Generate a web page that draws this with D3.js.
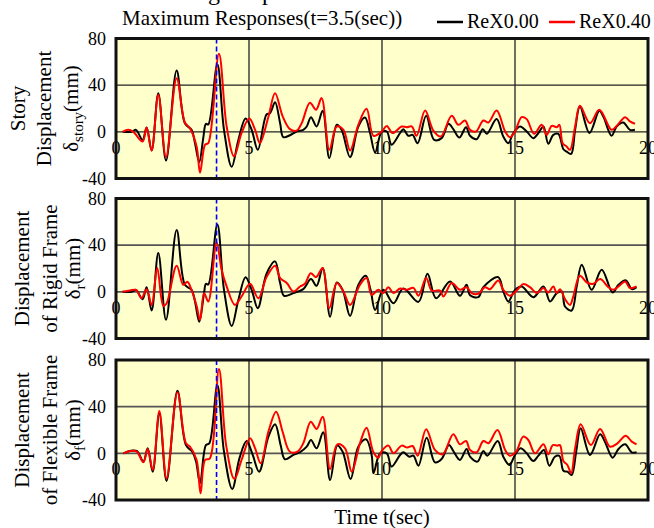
<!DOCTYPE html>
<html>
<head>
<meta charset="utf-8">
<script src="https://cdn.jsdelivr.net/npm/d3@7"></script>
<style>
  body { margin: 0; background: #fff; }
  svg { display: block; font-family: "Liberation Serif", "Times New Roman", serif; }
</style>
</head>
<body>
<svg id="canvas" width="654" height="528"></svg>
<script>
// values, [time (sec), displacement (mm)]
let storyBlack = [[0.25,0],[0.59,0],[0.75,1.7],[1.0,-7],[1.15,3.7],[1.34,-16],[1.59,33],[1.88,-24.6],[2.28,52.6],[2.59,7.4],[2.84,1.7],[2.97,-9.7],[3.13,-26],[3.28,-5.4],[3.38,6.9],[3.47,6.3],[3.81,58],[4.06,1.7],[4.35,-30],[4.6,-7],[4.87,11.4],[5.1,1.7],[5.33,-15.4],[5.66,14.9],[5.79,16],[5.98,25.4],[6.17,7.4],[6.29,-4.6],[6.54,-2.9],[6.79,0.3],[7.04,1.7],[7.17,4.6],[7.33,12.6],[7.54,4.6],[7.77,18],[8.02,-22.6],[8.3,6],[8.48,1.7],[8.8,-21.7],[9.11,4.6],[9.36,12.3],[9.55,-1],[9.74,-17.7],[9.99,0],[10.18,0.3],[10.36,-11],[10.68,-1],[10.8,2.3],[10.99,-3.4],[11.15,-2.6],[11.34,-9.7],[11.66,13.7],[11.96,-6.9],[12.24,-5.4],[12.5,6.9],[12.68,2.3],[12.91,-4.9],[13.16,4],[13.31,-3.4],[13.56,-6.3],[13.79,2.3],[13.94,-1.7],[14.31,10.9],[14.56,-4],[14.75,-9.7],[14.94,-1],[15.19,4.6],[15.44,0.3],[15.69,-5.4],[15.88,-1],[16.07,4.6],[16.25,-10.3],[16.44,-2.6],[16.63,-1.7],[16.82,-14.9],[16.94,-16.9],[17.11,-18.9],[17.26,1.7],[17.44,21.7],[17.8,-1],[18.17,18],[18.32,13.1],[18.63,-3.4],[18.82,4.6],[19.07,8],[19.32,1.7],[19.51,1.7]];

let storyRed = [[0.25,0],[0.46,1.7],[0.65,0],[1.0,-8.3],[1.15,3.7],[1.34,-16],[1.59,31.7],[1.88,-21.7],[2.28,46],[2.59,8],[2.78,3],[3.03,-12.6],[3.16,-35],[3.35,-11],[3.47,-9.7],[3.87,67],[4.16,4.6],[4.44,-21],[4.72,-1],[5.01,11.4],[5.23,1.7],[5.41,-9.7],[5.73,13],[5.98,33],[6.27,13],[6.54,2.3],[6.79,1],[6.98,7.4],[7.29,25],[7.52,18.9],[7.73,28.9],[8.02,-15.4],[8.3,4.6],[8.55,1.7],[8.8,-16],[9.11,6],[9.42,19.7],[9.68,-3.4],[9.99,0.3],[10.18,5.1],[10.4,-1],[10.74,4.6],[10.93,4],[11.12,4.6],[11.3,-3.4],[11.62,18.3],[11.93,1.1],[12.21,-4],[12.62,13.7],[12.87,6],[13.12,9.7],[13.31,1.7],[13.53,0.3],[13.81,9.7],[14.0,8],[14.31,18.3],[14.63,0.3],[14.81,-4.6],[15.0,0.3],[15.25,12.6],[15.44,10.9],[15.72,-1.7],[16.0,6],[16.19,-2.6],[16.38,5.1],[16.57,4],[16.67,6],[16.79,-9.7],[16.94,-12.6],[17.07,-15.4],[17.26,4.6],[17.44,22.3],[17.82,7.4],[18.17,18.9],[18.63,1.7],[18.82,5.1],[19.14,12.6],[19.32,8.9],[19.51,6.9]];

let rigidBlack = [[0.25,0],[0.59,0],[0.75,1.7],[1.0,-6.3],[1.15,4],[1.34,-16],[1.59,33.3],[1.88,-24],[2.28,52.9],[2.59,6],[2.84,1.7],[2.97,-8.3],[3.13,-25.6],[3.31,-1.1],[3.38,6.9],[3.47,6.3],[3.81,57.8],[4.06,1.7],[4.35,-29.3],[4.6,-6.9],[4.87,12.6],[5.1,1.7],[5.33,-14],[5.66,15.5],[5.98,26.1],[6.17,7.5],[6.32,-3.4],[6.67,-1.1],[7.04,2.3],[7.33,10.9],[7.54,5.2],[7.77,20.4],[8.05,-21.3],[8.3,8],[8.52,1.7],[8.8,-20.7],[9.11,6],[9.39,13.8],[9.57,1.7],[9.74,-15.5],[10.05,1.7],[10.43,-9.8],[10.8,2.9],[11.37,-8.6],[11.71,15.5],[12.03,-5.5],[12.56,8.9],[12.93,-3.4],[13.18,6],[13.31,-2.9],[13.62,-4.6],[13.81,4],[14.37,12.6],[14.56,0.3],[14.75,-8.3],[15.0,1.7],[15.25,4.6],[15.69,-4.6],[16.07,4.6],[16.32,-8.3],[16.57,-1.1],[16.76,0.3],[16.88,-12.6],[17.13,-16],[17.32,4.6],[17.51,23.3],[17.88,1.7],[18.26,19],[18.67,-0.6],[18.89,6],[19.17,9.8],[19.39,2.3],[19.57,4]];

let rigidRed = [[0.25,0],[0.53,1.1],[0.75,1.7],[0.96,-5.5],[1.15,2.3],[1.34,-11.2],[1.55,20.4],[1.78,-12],[1.9,-10],[2.28,22.4],[2.53,6],[2.68,8.6],[2.84,1.7],[3.03,-12],[3.16,-24],[3.31,-1.1],[3.47,-8.3],[3.78,42.5],[3.97,19],[4.16,4.6],[4.47,-11.2],[4.72,-4],[5.04,6.9],[5.35,-5.5],[5.66,12.6],[5.98,22.4],[6.17,11.8],[6.42,7.5],[6.67,0.3],[6.92,4.6],[7.1,6.9],[7.32,16],[7.52,12.6],[7.77,20.4],[8.02,-14],[8.3,7.5],[8.55,0.3],[8.8,-11.2],[9.17,6],[9.42,11.8],[9.61,-2.6],[9.86,1.7],[10.05,-1.1],[10.24,4],[10.43,-1.1],[10.68,2.9],[10.93,1.7],[11.18,3.4],[11.37,-3.4],[11.66,11.8],[11.87,1.1],[12.18,1.1],[12.31,-4],[12.62,7.5],[12.93,1.7],[13.18,4],[13.37,-1.1],[13.62,-1.7],[13.87,4],[14.06,2.3],[14.37,9.8],[14.56,1.7],[14.81,-3.4],[15.06,1.1],[15.31,6.6],[15.56,4],[15.82,-1.1],[16.07,3.2],[16.25,-0.6],[16.44,4.6],[16.57,-1.1],[16.69,2.3],[16.88,-6.3],[17.07,-11.2],[17.19,-4],[17.44,13.8],[17.7,8],[17.95,6.9],[18.2,10.9],[18.51,4],[18.7,1.7],[18.89,4.6],[19.14,8.9],[19.32,3.2],[19.57,4.6]];

let flexBlack = [[0.28,0],[0.53,2],[0.78,2],[1.03,-7],[1.19,4.3],[1.38,-15.7],[1.63,34.3],[1.9,-23.7],[2.31,53.7],[2.63,7],[2.88,1],[3.01,-7],[3.16,-25.7],[3.38,7],[3.51,8.6],[3.81,58.6],[4.06,1.4],[4.37,-30.6],[4.64,-4.3],[4.91,10.6],[5.14,-1.4],[5.38,-15.7],[5.73,14.3],[5.98,24.9],[6.19,7],[6.35,-5.1],[6.67,-1.4],[6.92,1],[7.17,5.7],[7.33,11.4],[7.54,4.3],[7.79,18],[8.05,-22.9],[8.32,6.6],[8.52,1.4],[8.82,-22],[9.11,5.7],[9.4,12],[9.61,-1.4],[9.68,-17],[9.93,0],[10.18,0],[10.36,-11.4],[10.68,-1.4],[10.8,0.9],[11.03,-2.9],[11.18,-2],[11.37,-10.6],[11.68,13.4],[11.99,-7.7],[12.24,-4.9],[12.52,7.1],[12.68,2],[12.93,-5.7],[13.18,3.7],[13.31,-2.9],[13.59,-7.1],[13.81,2],[13.96,-2],[14.35,10.6],[14.56,-2.9],[14.79,-10],[15.0,-1.4],[15.21,4.3],[15.44,0],[15.69,-6.6],[15.88,-2],[16.09,2.9],[16.29,-10.6],[16.5,-2.9],[16.67,-2.3],[16.82,-15],[16.97,-15.7],[17.13,-18.6],[17.3,1.4],[17.47,21.4],[17.82,-1.4],[18.2,16.3],[18.38,10],[18.67,-3.7],[18.89,3.7],[19.14,7.7],[19.39,0.9],[19.57,0.9]];

let flexRed = [[0.28,0],[0.53,2],[0.78,1.4],[1.03,-7.7],[1.19,3.7],[1.38,-14.3],[1.63,36.3],[1.9,-21.4],[2.31,52.3],[2.63,8.6],[2.78,5.7],[3.03,-5.7],[3.18,-34.3],[3.35,-5.7],[3.53,-4.3],[3.87,72.3],[4.14,7.1],[4.45,-22],[4.72,-5.7],[5.04,12.9],[5.23,4.3],[5.44,-8.6],[5.73,18.6],[6.02,35.7],[6.27,18],[6.54,1.4],[6.82,1.4],[7.04,8.6],[7.32,27.1],[7.54,20.9],[7.77,31.4],[8.05,-13.4],[8.32,7.7],[8.61,4.3],[8.86,-15.7],[9.17,8.6],[9.42,22],[9.67,1.4],[9.86,-3.7],[9.99,2],[10.24,6.6],[10.43,0],[10.74,6.6],[10.95,4.9],[11.15,6.3],[11.34,-2],[11.66,20.6],[11.99,2.9],[12.28,-0.9],[12.68,16.3],[12.93,7.7],[13.16,10.6],[13.31,2.9],[13.56,0.9],[13.81,10.6],[14.0,8.6],[14.34,20],[14.63,2.9],[14.81,-2],[15.04,1.4],[15.31,14.3],[15.5,11.4],[15.75,0],[16.07,7.7],[16.25,-0.9],[16.42,7.1],[16.59,6.6],[16.69,7.1],[16.82,-6.6],[16.97,-10],[17.11,-17],[17.26,4.3],[17.47,24.9],[17.85,7.1],[18.2,20.9],[18.57,5.7],[18.85,8.6],[19.16,15.1],[19.39,10],[19.57,7.7]];

let yTicks = [80, 40, 0, -40]
let xTicks = [0, 5, 10, 15, 20]
let seriesNames = ["ReX0.00", "ReX0.40"]
let seriesColors = ["#000000", "#ff0000"]
let maxTime = 3.78 // where the dashed marker sits in the picture

let panels = [
    { top: 38.5, lines: ["Story", "Displacement"], sym: "story", lx: [18, 44, 71], data: [storyBlack, storyRed] },
    { top: 198.5, lines: ["Displacement", "of Rigid Frame"], sym: "r", lx: [22, 50, 73], data: [rigidBlack, rigidRed] },
    { top: 360, lines: ["Displacement", "of Flexible Frame"], sym: "f", lx: [22, 50, 73], data: [flexBlack, flexRed] }
]

let canvas = d3.select("#canvas")
let left = 116, right = 648, panelH = 140

let xScale = d3.scaleLinear().domain([0, 20]).range([left, right])

canvas.append("defs").append("clipPath").attr("id", "plotclip")
    .append("rect").attr("x", 0).attr("y", 0).attr("width", right - left).attr("height", panelH)

panels.forEach((p, i) => {
    let yScale = d3.scaleLinear().domain([-40, 80]).range([p.top + panelH, p.top])
    let g = canvas.append("g")

    g.append("rect")
        .attr("x", left).attr("y", p.top)
        .attr("width", right - left).attr("height", panelH)
        .attr("fill", "#ffffcc")

    // grid
    g.selectAll(".hgrid").data([40, 0]).enter().append("line")
        .attr("x1", left).attr("x2", right)
        .attr("y1", d => yScale(d)).attr("y2", d => yScale(d))
        .attr("stroke", i == 0 ? "#222" : "#555").attr("stroke-width", i == 0 ? 1.3 : 1.8)
    g.selectAll(".vgrid").data([5, 10, 15]).enter().append("line")
        .attr("x1", d => xScale(d)).attr("x2", d => xScale(d))
        .attr("y1", p.top).attr("y2", p.top + panelH)
        .attr("stroke", "#222").attr("stroke-width", 1.3)

    // x tick labels sit just under the zero line
    g.selectAll(".xlab").data(xTicks).enter().append("text")
        .attr("x", d => xScale(d))
        .attr("y", yScale(0) + 22)
        .attr("text-anchor", "middle")
        .attr("font-size", 18)
        .text(d => d)

    let line = d3.line()
        .x(d => xScale(d[0]) - left)
        .y(d => yScale(d[1]) - p.top)
        .curve(d3.curveCatmullRom.alpha(0.5))

    let plot = g.append("g")
        .attr("transform", `translate(${left},${p.top})`)
        .attr("clip-path", "url(#plotclip)")
    p.data.forEach((s, k) => {
        plot.append("path")
            .attr("d", line(s))
            .attr("fill", "none")
            .attr("stroke", seriesColors[k])
            .attr("stroke-width", 2)
            .attr("stroke-linejoin", "round")
    })

    // max response marker
    g.append("line")
        .attr("x1", xScale(maxTime)).attr("x2", xScale(maxTime))
        .attr("y1", p.top).attr("y2", p.top + panelH)
        .attr("stroke", "#0000ff").attr("stroke-width", 1.6)
        .attr("stroke-dasharray", "5,3")

    g.append("rect")
        .attr("x", left).attr("y", p.top)
        .attr("width", right - left).attr("height", panelH)
        .attr("fill", "none").attr("stroke", "#111").attr("stroke-width", 3)

    // y tick labels
    g.selectAll(".ylab").data(yTicks).enter().append("text")
        .attr("x", 106)
        .attr("y", d => yScale(d))
        .attr("dy", "0.35em")
        .attr("text-anchor", "end")
        .attr("font-size", 18)
        .text(d => d)

    // rotated axis title
    let cy = p.top + panelH / 2
    p.lines.forEach((txt, j) => {
        g.append("text")
            .attr("transform", `translate(${p.lx[j]},${cy}) rotate(-90)`)
            .attr("text-anchor", "middle")
            .attr("dy", "0.35em")
            .attr("font-size", 21)
            .text(txt)
    })
    let sym = g.append("text")
        .attr("transform", `translate(${p.lx[2]},${cy}) rotate(-90)`)
        .attr("text-anchor", "middle")
        .attr("dy", "0.35em")
        .attr("font-size", 21)
    sym.append("tspan").text("δ")
    sym.append("tspan").attr("font-size", 15).attr("dy", 5).text(p.sym)
    sym.append("tspan").attr("dy", -5).text("(mm)")
})

// header
canvas.append("text")
    .attr("x", 243).attr("y", 0)
    .attr("text-anchor", "middle")
    .attr("font-size", 24)
    .text("Swing Responses")

canvas.append("text")
    .attr("x", 122).attr("y", 25)
    .attr("font-size", 21)
    .text("Maximum Responses(t=3.5(sec))")

let legendX = [437, 549]
seriesNames.forEach((name, k) => {
    canvas.append("line")
        .attr("x1", legendX[k]).attr("x2", legendX[k] + 26)
        .attr("y1", 22).attr("y2", 22)
        .attr("stroke", seriesColors[k]).attr("stroke-width", 2.5)
    canvas.append("text")
        .attr("x", legendX[k] + 30).attr("y", 28)
        .attr("font-size", 20)
        .text(name)
})

canvas.append("text")
    .attr("x", xScale(10)).attr("y", 524)
    .attr("text-anchor", "middle")
    .attr("font-size", 21)
    .text("Time t(sec)")
</script>
</body>
</html>
